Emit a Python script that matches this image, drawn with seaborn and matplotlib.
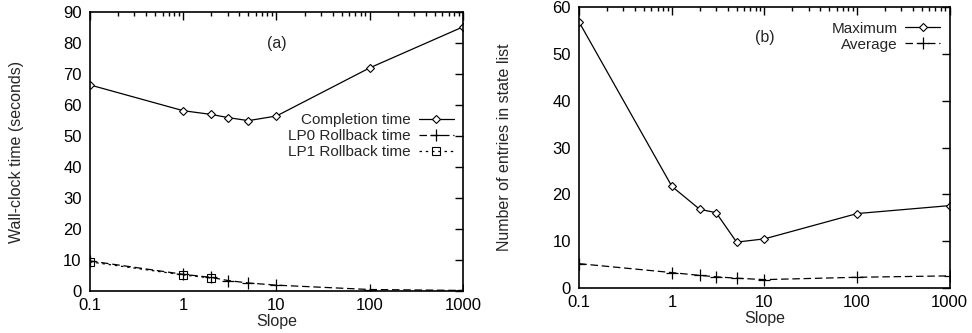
import matplotlib
matplotlib.use("Agg")
import matplotlib.pyplot as plt
import matplotlib.ticker as mticker
import numpy as np
import pandas as pd
import seaborn as sns

# slope values used on both panels
slope = [0.1, 1, 2, 3, 5, 10, 100, 1000]

# panel (a): wall-clock time in seconds
completion = [66.5, 58.2, 57.0, 56.0, 55.0, 56.5, 72.0, 85.2]
lp0_rollback = [9.8, 5.5, 4.5, 3.5, 2.7, 2.0, 0.6, 0.3]
lp1_slope = [0.1, 1, 2]
lp1_rollback = [9.5, 5.3, 4.3]

# panel (b): entries in state list
maximum = [56.7, 21.7, 16.8, 16.1, 9.8, 10.5, 15.9, 17.6]
average = [5.2, 3.3, 2.7, 2.4, 2.1, 1.8, 2.3, 2.6]

xticks = [0.1, 1, 10, 100, 1000]
xtick_labels = ["0.1", "1", "10", "100", "1000"]

sns.set_style("white")
plt.rcParams["font.family"] = ["Liberation Sans", "DejaVu Sans"]
plt.rcParams["font.size"] = 11

fig = plt.figure(figsize=(9.72, 3.33), dpi=100)
ax_a = fig.add_axes([0.0926, 0.125, 0.3837, 0.839])
ax_b = fig.add_axes([0.596, 0.135, 0.381, 0.844])

diamond = dict(marker="D", markersize=4, markerfacecolor="white",
               markeredgecolor="black", markeredgewidth=0.8)
plus = dict(marker="+", markersize=9, markeredgecolor="black",
            markeredgewidth=0.9)
square = dict(marker="s", markersize=6, markerfacecolor="none",
              markeredgecolor="black", markeredgewidth=0.8)


def style_axis(ax, ymax, ystep):
    ax.set_xscale("log")
    ax.set_xlim(0.1, 1000)
    ax.set_ylim(0, ymax)
    ax.set_xticks(xticks)
    ax.set_xticklabels(xtick_labels)
    ax.xaxis.set_minor_locator(mticker.LogLocator(base=10, subs=np.arange(2, 10)))
    ax.xaxis.set_minor_formatter(mticker.NullFormatter())
    ax.set_yticks(np.arange(0, ymax + 1, ystep))
    ax.tick_params(which="both", direction="in", top=True, right=True,
                   colors="black", labelsize=12)
    ax.tick_params(which="major", length=6, width=1)
    ax.tick_params(which="minor", length=3, width=1)
    ax.tick_params(axis="x", pad=5)
    ax.tick_params(axis="y", pad=6)
    for s in ax.spines.values():
        s.set_color("black")
        s.set_linewidth(1.2)
    ax.set_xlabel("Slope", fontsize=11.5, labelpad=0.5)


df_a = pd.DataFrame({"slope": slope, "completion": completion, "lp0": lp0_rollback})
df_lp1 = pd.DataFrame({"slope": lp1_slope, "lp1": lp1_rollback})

sns.lineplot(data=df_a, x="slope", y="completion", ax=ax_a, color="black",
             lw=0.9, label="Completion time", **diamond)
sns.lineplot(data=df_a, x="slope", y="lp0", ax=ax_a, color="black",
             lw=0.9, linestyle=(0, (6, 3)), label="LP0 Rollback time", **plus)
sns.lineplot(data=df_lp1, x="slope", y="lp1", ax=ax_a, color="black",
             lw=0.9, linestyle=(0, (2, 3)), label="LP1 Rollback time", **square)
style_axis(ax_a, 90, 10)
ax_a.set_ylabel("Wall-clock time (seconds)", fontsize=11.5, labelpad=28)
ax_a.text(10, 80, "(a)", ha="center", va="center", fontsize=11.5)
ax_a.legend(loc="upper right", bbox_to_anchor=(1.0, 0.67), frameon=False,
            markerfirst=False, handlelength=2.3, handletextpad=0.5,
            labelspacing=0.12, fontsize=11, borderaxespad=0.2)

df_b = pd.DataFrame({"slope": slope, "maximum": maximum, "average": average})
sns.lineplot(data=df_b, x="slope", y="maximum", ax=ax_b, color="black",
             lw=0.9, label="Maximum", **diamond)
sns.lineplot(data=df_b, x="slope", y="average", ax=ax_b, color="black",
             lw=0.9, linestyle=(0, (6, 3)), label="Average", **plus)
style_axis(ax_b, 60, 10)
ax_b.set_ylabel("Number of entries in state list", fontsize=11.5, labelpad=29)
ax_b.text(10, 53.4, "(b)", ha="center", va="center", fontsize=11.5)
ax_b.legend(loc="upper right", bbox_to_anchor=(1.0, 0.98), frameon=False,
            markerfirst=False, handlelength=2.3, handletextpad=0.5,
            labelspacing=0.12, fontsize=11, borderaxespad=0.2)

fig.savefig("out.png", dpi=100)
